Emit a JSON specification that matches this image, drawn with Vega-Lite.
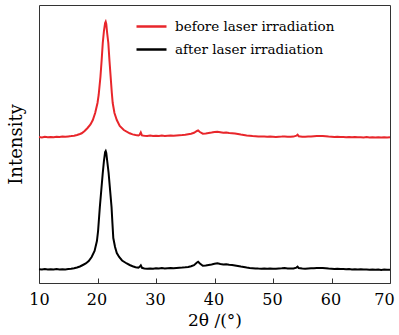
{
  "$schema": "https://vega.github.io/schema/vega-lite/v6.json",
  "width": 351,
  "height": 278,
  "autosize": "none",
  "padding": {"left": 39, "top": 5, "right": 9, "bottom": 52},
  "background": "white",
  "datasets": {
    "red": [
      {"t":10,"i":146.0},{"t":10.5,"i":145.6},{"t":11,"i":146.2},{"t":11.5,"i":145.8},{"t":12,"i":146.1},{"t":12.5,"i":145.7},{"t":13,"i":146.3},{"t":13.5,"i":146.0},{"t":14,"i":146.4},{"t":14.5,"i":146.2},{"t":15,"i":146.6},{"t":15.5,"i":146.9},{"t":16,"i":147.3},{"t":16.5,"i":148.0},{"t":17,"i":149.0},{"t":17.3,"i":149.7},{"t":17.8,"i":152},{"t":18.3,"i":155},{"t":18.8,"i":158.5},{"t":19.2,"i":163},{"t":19.6,"i":170},{"t":20.0,"i":180},{"t":20.2,"i":188},{"t":20.5,"i":206},{"t":20.7,"i":222},{"t":20.9,"i":240},{"t":21.1,"i":252},{"t":21.3,"i":260},{"t":21.4,"i":261.3},{"t":21.5,"i":259},{"t":21.65,"i":250},{"t":21.85,"i":240},{"t":22.05,"i":222},{"t":22.25,"i":206},{"t":22.45,"i":190},{"t":22.6,"i":180},{"t":22.9,"i":170},{"t":23.3,"i":163},{"t":23.8,"i":157},{"t":24.5,"i":153},{"t":25.5,"i":149.7},{"t":26,"i":148.6},{"t":26.5,"i":148},{"t":27,"i":147.5},{"t":27.2,"i":148.2},{"t":27.4,"i":150.5},{"t":27.6,"i":147.6},{"t":28,"i":147.2},{"t":28.5,"i":147.0},{"t":29,"i":147.4},{"t":29.5,"i":147.0},{"t":30,"i":147.3},{"t":30.5,"i":147.0},{"t":31,"i":147.4},{"t":31.5,"i":147.1},{"t":32,"i":147.3},{"t":32.5,"i":147.5},{"t":33,"i":147.2},{"t":33.5,"i":147.6},{"t":34,"i":147.8},{"t":34.5,"i":148.0},{"t":35,"i":148.3},{"t":35.5,"i":148.8},{"t":36,"i":149.3},{"t":36.5,"i":150.2},{"t":37,"i":152.0},{"t":37.2,"i":152.5},{"t":37.5,"i":151.0},{"t":38,"i":149.3},{"t":38.5,"i":149.6},{"t":39,"i":150.0},{"t":39.5,"i":150.4},{"t":40,"i":150.9},{"t":40.5,"i":151.3},{"t":41,"i":150.8},{"t":41.5,"i":150.3},{"t":42,"i":150.5},{"t":42.5,"i":150.0},{"t":43,"i":149.8},{"t":43.5,"i":149.4},{"t":44,"i":148.9},{"t":44.5,"i":148.4},{"t":45,"i":148.0},{"t":45.5,"i":147.6},{"t":46,"i":147.3},{"t":46.5,"i":147.0},{"t":47,"i":146.8},{"t":47.5,"i":146.6},{"t":48,"i":146.4},{"t":48.5,"i":146.5},{"t":49,"i":146.2},{"t":49.5,"i":146.4},{"t":50,"i":146.2},{"t":50.5,"i":146.0},{"t":51,"i":146.3},{"t":51.5,"i":146.4},{"t":52,"i":146.6},{"t":52.5,"i":146.3},{"t":53,"i":146.2},{"t":53.5,"i":146.4},{"t":54,"i":147.3},{"t":54.2,"i":148.3},{"t":54.4,"i":146.8},{"t":55,"i":146.3},{"t":55.5,"i":146.2},{"t":56,"i":146.5},{"t":56.5,"i":146.6},{"t":57,"i":146.8},{"t":57.5,"i":146.9},{"t":58,"i":147.0},{"t":58.5,"i":147.1},{"t":59,"i":146.8},{"t":59.5,"i":146.5},{"t":60,"i":146.3},{"t":60.5,"i":146.0},{"t":61,"i":146.2},{"t":61.5,"i":145.9},{"t":62,"i":146.0},{"t":62.5,"i":145.8},{"t":63,"i":146.0},{"t":63.5,"i":145.7},{"t":64,"i":145.9},{"t":64.5,"i":145.7},{"t":65,"i":145.8},{"t":65.5,"i":145.6},{"t":66,"i":145.9},{"t":66.5,"i":145.6},{"t":67,"i":145.8},{"t":67.5,"i":145.6},{"t":68,"i":145.7},{"t":68.5,"i":145.5},{"t":69,"i":145.8},{"t":69.5,"i":145.6},{"t":70,"i":145.7}
    ],
    "black": [
      {"t":10,"i":13.7},{"t":10.5,"i":13.4},{"t":11,"i":13.9},{"t":11.5,"i":13.5},{"t":12,"i":13.8},{"t":12.5,"i":13.5},{"t":13,"i":13.9},{"t":13.5,"i":13.6},{"t":14,"i":13.8},{"t":14.5,"i":13.6},{"t":15,"i":13.9},{"t":15.5,"i":14.2},{"t":16,"i":14.8},{"t":16.5,"i":15.5},{"t":17,"i":16.5},{"t":17.5,"i":18},{"t":18,"i":19.5},{"t":18.5,"i":22},{"t":19.0,"i":26},{"t":19.5,"i":32},{"t":19.9,"i":42},{"t":20.1,"i":52},{"t":20.4,"i":76},{"t":20.65,"i":93},{"t":20.9,"i":110},{"t":21.1,"i":122},{"t":21.3,"i":131},{"t":21.4,"i":132},{"t":21.5,"i":130},{"t":21.7,"i":120},{"t":21.9,"i":110},{"t":22.15,"i":93},{"t":22.4,"i":76},{"t":22.55,"i":60},{"t":22.7,"i":45},{"t":23.0,"i":36},{"t":23.3,"i":30},{"t":23.7,"i":26},{"t":24.2,"i":22.5},{"t":25,"i":19.5},{"t":25.5,"i":18},{"t":26,"i":16.8},{"t":26.5,"i":15.8},{"t":27,"i":15.4},{"t":27.2,"i":16.2},{"t":27.4,"i":17.6},{"t":27.6,"i":15.2},{"t":28,"i":14.6},{"t":28.5,"i":14.3},{"t":29,"i":14.6},{"t":29.5,"i":14.3},{"t":30,"i":14.8},{"t":30.5,"i":14.6},{"t":31,"i":14.9},{"t":31.5,"i":14.6},{"t":32,"i":14.8},{"t":32.5,"i":15.0},{"t":33,"i":14.8},{"t":33.5,"i":15.1},{"t":34,"i":15.3},{"t":34.5,"i":15.4},{"t":35,"i":15.7},{"t":35.5,"i":16.1},{"t":36,"i":16.7},{"t":36.5,"i":17.8},{"t":37,"i":20.5},{"t":37.2,"i":21.3},{"t":37.5,"i":19.5},{"t":38,"i":17.2},{"t":38.5,"i":17.6},{"t":39,"i":18.1},{"t":39.5,"i":18.6},{"t":40,"i":19.2},{"t":40.5,"i":19.7},{"t":41,"i":19.0},{"t":41.5,"i":18.6},{"t":42,"i":18.8},{"t":42.5,"i":18.3},{"t":43,"i":18.1},{"t":43.5,"i":17.6},{"t":44,"i":17.0},{"t":44.5,"i":16.4},{"t":45,"i":15.9},{"t":45.5,"i":15.4},{"t":46,"i":15.0},{"t":46.5,"i":14.8},{"t":47,"i":14.6},{"t":47.5,"i":14.4},{"t":48,"i":14.3},{"t":48.5,"i":14.5},{"t":49,"i":14.2},{"t":49.5,"i":14.4},{"t":50,"i":14.3},{"t":50.5,"i":14.2},{"t":51,"i":14.5},{"t":51.5,"i":14.7},{"t":52,"i":15.0},{"t":52.5,"i":14.6},{"t":53,"i":14.4},{"t":53.5,"i":14.6},{"t":54,"i":15.4},{"t":54.2,"i":16.4},{"t":54.4,"i":14.9},{"t":55,"i":14.4},{"t":55.5,"i":14.3},{"t":56,"i":14.5},{"t":56.5,"i":14.7},{"t":57,"i":14.8},{"t":57.5,"i":14.9},{"t":58,"i":15.0},{"t":58.5,"i":15.1},{"t":59,"i":14.8},{"t":59.5,"i":14.5},{"t":60,"i":14.3},{"t":60.5,"i":14.0},{"t":61,"i":14.2},{"t":61.5,"i":13.9},{"t":62,"i":14.0},{"t":62.5,"i":13.7},{"t":63,"i":13.9},{"t":63.5,"i":13.6},{"t":64,"i":13.8},{"t":64.5,"i":13.5},{"t":65,"i":13.7},{"t":65.5,"i":13.4},{"t":66,"i":13.6},{"t":66.5,"i":13.3},{"t":67,"i":13.5},{"t":67.5,"i":13.3},{"t":68,"i":13.4},{"t":68.5,"i":13.1},{"t":69,"i":13.4},{"t":69.5,"i":13.2},{"t":70,"i":13.3}
    ]
  },
  "encoding": {
    "x": {
      "field": "t",
      "type": "quantitative",
      "scale": {"domain": [10, 70], "nice": false, "zero": false},
      "axis": {
        "title": "2θ /(°)",
        "values": [10, 20, 30, 40, 50, 60, 70],
        "domain": false,
        "grid": false,
        "tickSize": -5,
        "tickColor": "#333",
        "labelFlush": false,
        "labelOverlap": false,
        "labelOffset": {"expr": "datum.value == 70 ? -6 : (datum.value == 10 ? 0 : -1)"},
        "labelPadding": 13,
        "labelFontSize": 16,
        "labelColor": "#000",
        "labelFont": "DejaVu Serif",
        "labelFontWeight": "normal",
        "titleFont": "DejaVu Serif",
        "titleFontSize": 17,
        "titleFontWeight": "normal",
        "titleColor": "#000",
        "titlePadding": 5
      }
    },
    "y": {
      "field": "i",
      "type": "quantitative",
      "scale": {"domain": [0, 278], "nice": false},
      "axis": {
        "title": "Intensity",
        "labels": false,
        "ticks": false,
        "domain": false,
        "grid": false,
        "titleFont": "DejaVu Serif",
        "titleFontSize": 18,
        "titleFontWeight": "normal",
        "titleColor": "#000",
        "titlePadding": 14
      }
    }
  },
  "layer": [
    {
      "data": {"name": "red"},
      "mark": {"type": "line", "strokeWidth": 2},
      "encoding": {"color": {"datum": "before laser irradiation"}}
    },
    {
      "data": {"name": "black"},
      "mark": {"type": "line", "strokeWidth": 2},
      "encoding": {"color": {"datum": "after laser irradiation"}}
    }
  ],
  "resolve": {"scale": {"color": "shared"}},
  "config": {
    "view": {"stroke": "#333", "strokeWidth": 1},
    "font": "DejaVu Serif",
    "range": {"category": ["#e8262b", "#000000"]},
    "legend": {
      "orient": "none",
      "legendX": 96,
      "legendY": 5,
      "title": null,
      "symbolType": "stroke",
      "symbolSize": 900,
      "symbolStrokeWidth": 2.5,
      "labelFont": "DejaVu Serif",
      "labelFontSize": 13.5,
      "labelColor": "#000",
      "labelOffset": 7,
      "labelLimit": 0,
      "rowPadding": -8,
      "padding": 0
    }
  }
}
